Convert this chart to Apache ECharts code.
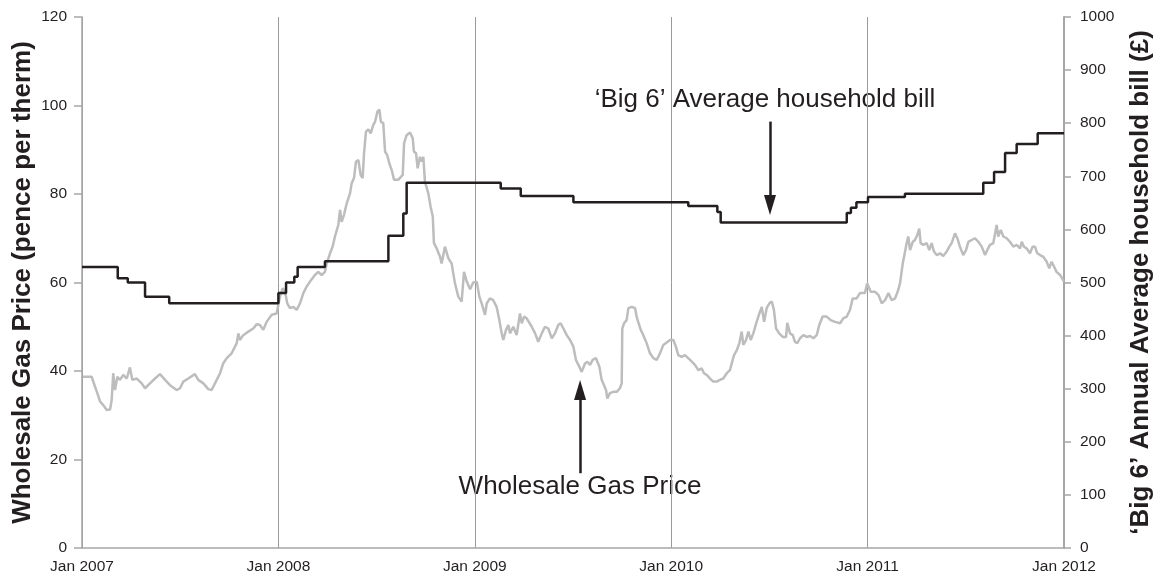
<!DOCTYPE html>
<html>
<head>
<meta charset="utf-8">
<script src="https://cdn.jsdelivr.net/npm/echarts@6/dist/echarts.min.js"></script>
<style>
html,body{margin:0;padding:0;background:#fff;}
#chart{width:1157px;height:575px;}
</style>
</head>
<body>
<div id="chart"></div>
<script>
// X ticks (years)
const yearTicks = [2007, 2008, 2009, 2010, 2011, 2012];

// Wholesale gas price (pence per therm), x in decimal years
const gasDate = [
2007.004,2007.049,2007.066,2007.078,2007.092,2007.108,2007.126,2007.143,2007.151,2007.159,2007.168,2007.180,2007.193,2007.210,2007.228,2007.244,2007.256,2007.279,2007.304,2007.321,2007.346,2007.372,2007.397,2007.423,2007.448,2007.482,2007.499,2007.516,2007.541,2007.575,2007.592,2007.618,2007.643,2007.660,2007.677,2007.703,2007.719,2007.737,2007.762,2007.788,2007.796,2007.804,2007.821,2007.847,2007.872,2007.890,2007.906,2007.923,2007.940,2007.966,2007.991,
2008.008,2008.022,2008.034,2008.045,2008.059,2008.076,2008.093,2008.110,2008.127,2008.144,2008.161,2008.186,2008.203,2008.220,2008.237,2008.246,2008.263,2008.276,2008.288,2008.305,2008.314,2008.322,2008.334,2008.348,2008.365,2008.373,2008.385,2008.395,2008.407,2008.419,2008.429,2008.436,2008.446,2008.458,2008.470,2008.483,2008.492,2008.504,2008.514,2008.522,2008.534,2008.543,2008.554,2008.565,2008.577,2008.589,2008.610,2008.633,2008.640,2008.653,2008.670,2008.684,2008.690,2008.701,2008.709,2008.721,2008.730,2008.738,2008.746,2008.763,2008.775,2008.786,2008.792,2008.806,2008.823,2008.831,2008.848,2008.865,2008.882,2008.899,2008.916,2008.933,2008.945,2008.959,2008.976,2008.992,
2009.010,2009.023,2009.035,2009.052,2009.061,2009.077,2009.094,2009.111,2009.125,2009.137,2009.145,2009.159,2009.171,2009.179,2009.196,2009.213,2009.230,2009.239,2009.251,2009.264,2009.272,2009.290,2009.307,2009.323,2009.341,2009.357,2009.374,2009.392,2009.408,2009.425,2009.437,2009.451,2009.468,2009.485,2009.502,2009.515,2009.532,2009.544,2009.561,2009.573,2009.587,2009.600,2009.617,2009.634,2009.646,2009.658,2009.668,2009.675,2009.688,2009.705,2009.723,2009.739,2009.748,2009.751,2009.760,2009.773,2009.782,2009.799,2009.816,2009.824,2009.832,2009.845,2009.858,2009.875,2009.892,2009.909,2009.926,2009.943,2009.960,2009.994,
2010.011,2010.024,2010.036,2010.053,2010.070,2010.096,2010.121,2010.138,2010.155,2010.167,2010.181,2010.198,2010.214,2010.232,2010.248,2010.265,2010.283,2010.299,2010.308,2010.320,2010.334,2010.347,2010.359,2010.367,2010.381,2010.393,2010.405,2010.418,2010.435,2010.449,2010.461,2010.473,2010.486,2010.500,2010.512,2010.523,2010.534,2010.550,2010.568,2010.585,2010.591,2010.605,2010.619,2010.630,2010.642,2010.656,2010.673,2010.690,2010.707,2010.724,2010.741,2010.754,2010.771,2010.792,2010.812,2010.834,2010.860,2010.876,2010.894,2010.910,2010.924,2010.944,2010.961,2010.986,2010.998,
2011.016,2011.038,2011.055,2011.072,2011.089,2011.106,2011.123,2011.140,2011.156,2011.165,2011.179,2011.187,2011.199,2011.207,2011.216,2011.230,2011.241,2011.253,2011.263,2011.270,2011.284,2011.301,2011.314,2011.326,2011.338,2011.352,2011.369,2011.385,2011.403,2011.416,2011.428,2011.445,2011.457,2011.470,2011.487,2011.501,2011.513,2011.530,2011.547,2011.564,2011.581,2011.598,2011.609,2011.623,2011.640,2011.657,2011.665,2011.678,2011.691,2011.708,2011.725,2011.742,2011.759,2011.776,2011.785,2011.796,2011.810,2011.827,2011.840,2011.852,2011.864,2011.878,2011.895,2011.912,2011.925,2011.937,2011.949,2011.962,2011.980,2012.000
];
const gasPrice = [
38.7,38.7,36.5,35.0,33.1,32.3,31.2,31.3,33.4,39.5,35.7,38.7,38.0,39.1,38.3,40.8,38.0,38.3,37.2,36.1,37.2,38.3,39.3,38.0,36.8,35.7,36.1,37.6,38.3,39.3,38.0,37.2,35.9,35.7,37.2,39.5,41.7,42.9,44.0,46.3,48.5,47.0,48.1,48.9,49.6,50.6,50.4,49.3,51.1,52.7,53.0,
56.8,58.7,57.9,55.3,54.2,54.5,53.8,55.3,57.6,59.1,60.2,61.7,62.4,61.7,62.4,64.3,66.6,68.1,70.4,73.0,76.4,73.7,75.3,77.9,80.2,82.4,83.6,87.3,87.7,84.3,83.6,89.2,94.1,94.6,93.7,95.6,96.3,98.6,99.1,96.3,96.0,89.6,88.8,86.9,85.4,83.2,83.2,84.3,91.5,93.3,93.9,92.6,89.6,89.2,85.8,88.4,87.3,88.4,82.8,80.2,77.1,74.9,68.9,67.7,65.8,64.3,68.1,65.5,64.3,59.8,56.8,55.7,62.4,60.2,58.5,60.0,
60.2,56.8,55.3,52.7,55.3,56.4,56.0,54.5,51.5,48.5,47.0,49.3,50.4,48.5,50.0,48.1,53.0,50.8,52.3,51.9,52.3,50.0,48.5,46.6,48.5,50.0,49.6,47.4,48.5,50.4,50.8,49.6,48.1,47.0,45.5,42.5,41.0,39.8,41.7,42.1,41.4,42.5,42.9,41.0,38.0,36.8,35.7,33.8,35.0,35.3,35.3,36.1,37.2,49.6,50.8,51.5,54.2,54.5,54.2,52.3,51.1,49.3,48.1,46.3,44.0,42.9,42.5,44.0,45.9,47.0,
47.0,45.5,43.6,43.2,43.6,42.5,41.4,40.2,40.6,39.5,39.1,38.3,37.6,37.6,38.0,38.3,39.5,40.2,41.7,43.6,44.7,46.3,48.9,45.9,47.0,48.9,47.0,48.5,51.1,53.0,54.5,51.1,54.2,55.3,55.7,53.8,49.6,48.5,47.7,47.7,50.9,48.5,48.1,46.6,46.3,47.4,48.1,47.7,47.9,47.4,48.1,50.4,52.3,52.3,51.5,51.1,50.8,51.9,52.3,53.8,56.4,56.4,57.6,57.6,59.8,
57.9,57.9,57.2,55.3,56.0,57.6,56.0,56.4,58.3,59.8,64.3,64.7,68.9,70.4,67.3,69.2,69.6,70.7,72.2,68.9,68.5,68.9,67.3,68.9,67.0,66.2,66.6,66.0,67.0,68.1,68.9,71.1,70.0,68.1,66.2,67.3,69.2,69.6,70.0,69.2,68.1,66.2,67.3,68.5,68.9,73.0,70.4,71.9,70.4,70.0,69.2,68.1,68.5,67.7,69.2,68.1,67.7,66.6,68.1,68.1,66.6,66.2,65.8,64.7,63.2,64.7,63.6,62.4,61.7,60.2
];

// 'Big 6' average household bill (£), change dates in decimal years
const billDate = [2007.0,2007.182,2007.233,2007.321,2007.444,2008.0,2008.039,2008.081,2008.098,2008.237,2008.560,2008.636,2008.653,2009.132,2009.234,2009.502,2010.087,2010.235,2010.252,2010.894,2010.915,2010.943,2011.002,2011.190,2011.589,2011.644,2011.700,2011.759,2011.866,2012.0];
const billValue = [529,508,500,473,461,480,500,511,529,540,588,630,688,677,663,651,644,633,613,631,641,651,661,667,688,708,744,761,781,781];

const FONT = "'Liberation Sans', Arial, Helvetica, sans-serif";
const INK = '#231f20';
const AXIS = '#a6a6a6';

const gasData = gasDate.map((d, i) => [d, gasPrice[i]]);
const billData = billDate.map((d, i) => [d, billValue[i]]);

const chart = echarts.init(document.getElementById('chart'), null, {renderer: 'canvas'});
chart.setOption({
  animation: false,
  backgroundColor: '#fff',
  grid: {left: 82, right: 93, top: 17, bottom: 27, containLabel: false, outerBoundsMode: 'none'},
  xAxis: {
    type: 'value', min: yearTicks[0], max: yearTicks[yearTicks.length - 1], interval: 1,
    axisLine: {show: true, lineStyle: {color: AXIS, width: 1.5}},
    axisTick: {show: false},
    axisLabel: {formatter: v => 'Jan ' + v, fontFamily: FONT, fontSize: 15.5, color: INK, margin: 11},
    splitLine: {show: true, lineStyle: {color: '#9a9a9a', width: 1}}
  },
  yAxis: [
    {
      type: 'value', min: 0, max: 120, interval: 20, position: 'left',
      name: 'Wholesale Gas Price (pence per therm)', nameLocation: 'middle', nameRotate: 90, nameGap: 46,
      nameMoveOverlap: false,
      nameTextStyle: {fontFamily: FONT, fontSize: 26, fontWeight: 'bold', color: INK},
      axisLine: {show: true, lineStyle: {color: AXIS, width: 1.5}},
      axisTick: {show: true, length: 8, lineStyle: {color: AXIS, width: 1.5}},
      axisLabel: {fontFamily: FONT, fontSize: 15.5, color: INK, margin: 15},
      splitLine: {show: false}
    },
    {
      type: 'value', min: 0, max: 1000, interval: 100, position: 'right',
      name: '\u2018Big 6\u2019 Annual Average household bill (\u00a3)', nameLocation: 'middle', nameRotate: 90, nameGap: 64,
      nameMoveOverlap: false,
      nameTextStyle: {fontFamily: FONT, fontSize: 26, fontWeight: 'bold', color: INK},
      axisLine: {show: true, lineStyle: {color: AXIS, width: 2}},
      axisTick: {show: true, length: 7, lineStyle: {color: AXIS, width: 1.5}},
      axisLabel: {formatter: v => String(v), fontFamily: FONT, fontSize: 15.5, color: INK, margin: 16},
      splitLine: {show: false}
    }
  ],
  series: [
    {
      name: 'Wholesale Gas Price', type: 'line', yAxisIndex: 0, data: gasData,
      showSymbol: false, symbol: 'none', z: 2,
      lineStyle: {color: '#bdbdbd', width: 2.5},
      markLine: {
        silent: true, symbol: ['none', 'triangle'], symbolSize: [12, 20],
        lineStyle: {color: INK, width: 2.5, type: 'solid'},
        label: {show: false},
        data: [[{coord: [2009.536, 16.9]}, {coord: [2009.536, 35.7]}]]
      }
    },
    {
      name: "'Big 6' Average household bill", type: 'line', yAxisIndex: 1, data: billData,
      step: 'end', showSymbol: false, symbol: 'none', z: 3,
      lineStyle: {color: INK, width: 2.5},
      markLine: {
        silent: true, symbol: ['none', 'triangle'], symbolSize: [12, 20],
        lineStyle: {color: INK, width: 2.5, type: 'solid'},
        label: {show: false},
        data: [[{coord: [2010.503, 803]}, {coord: [2010.503, 646]}]]
      }
    }
  ],
  graphic: [
    {type: 'text', x: 765, y: 100, style: {text: '\u2018Big 6\u2019 Average household bill', font: '26px ' + FONT, fill: INK, textAlign: 'center', textVerticalAlign: 'middle'}},
    {type: 'text', x: 580, y: 487, style: {text: 'Wholesale Gas Price', font: '26px ' + FONT, fill: INK, textAlign: 'center', textVerticalAlign: 'middle'}}
  ]
});
</script>
</body>
</html>
